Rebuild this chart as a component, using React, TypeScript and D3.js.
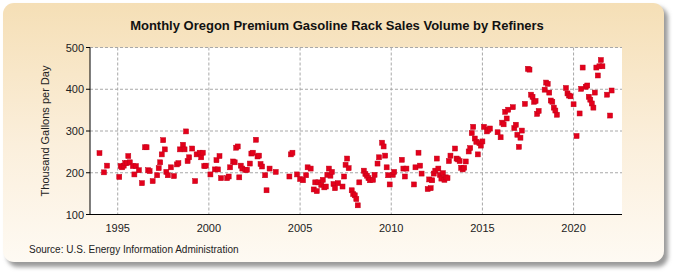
import React from "react";
import * as d3 from "d3";

const months: string[] = [
  "1994-01","1994-04","1994-06",
  "1995-02","1995-03","1995-04","1995-05","1995-06","1995-07","1995-08","1995-09","1995-11","1995-12",
  "1996-01","1996-03","1996-05","1996-07","1996-08","1996-09","1996-10","1996-12",
  "1997-03","1997-04","1997-05","1997-06","1997-07","1997-08","1997-09","1997-10","1997-12",
  "1998-02","1998-04","1998-05","1998-06","1998-08","1998-09","1998-10","1998-11","1998-12",
  "1999-02","1999-04","1999-05","1999-07","1999-08","1999-09","1999-10","1999-11",
  "2000-02","2000-05","2000-06","2000-07","2000-08","2000-09",
  "2001-01","2001-02","2001-03","2001-05","2001-06","2001-07","2001-08","2001-09","2001-10","2001-11",
  "2002-01","2002-02","2002-04","2002-05","2002-06","2002-08","2002-09","2002-10","2002-11","2002-12",
  "2003-02","2003-03","2003-05","2003-09",
  "2004-06","2004-07","2004-08","2004-11",
  "2005-01","2005-03","2005-05","2005-06","2005-08","2005-10","2005-11","2005-12",
  "2006-01","2006-03","2006-04","2006-05","2006-06","2006-07","2006-08","2006-09","2006-10","2006-11","2006-12",
  "2007-02","2007-05","2007-06","2007-07","2007-08","2007-09","2007-11","2007-12",
  "2008-01","2008-02","2008-03","2008-04","2008-07","2008-08","2008-09","2008-10","2008-11",
  "2009-01","2009-02","2009-04","2009-05","2009-07","2009-08","2009-09","2009-10","2009-11","2009-12",
  "2010-02","2010-03","2010-08","2010-09","2010-10","2010-11",
  "2011-04","2011-05","2011-07","2011-08","2011-09",
  "2012-01","2012-02","2012-03","2012-04","2012-05","2012-06","2012-07","2012-08","2012-09","2012-10","2012-11","2012-12",
  "2013-01","2013-02","2013-03","2013-04","2013-07","2013-08","2013-09","2013-10","2013-11","2013-12",
  "2014-01","2014-02","2014-04","2014-05","2014-06","2014-07","2014-08","2014-09","2014-10","2014-11","2014-12",
  "2015-01","2015-02","2015-04","2015-05","2015-06","2015-11",
  "2016-01","2016-02","2016-03","2016-04","2016-05","2016-06","2016-09","2016-10","2016-11","2016-12",
  "2017-01","2017-02","2017-03","2017-05","2017-07","2017-08","2017-09","2017-10","2017-11","2017-12",
  "2018-01","2018-02","2018-06","2018-07","2018-08","2018-09","2018-10","2018-11","2018-12",
  "2019-01","2019-02","2019-08","2019-09","2019-10","2019-11",
  "2020-01","2020-03","2020-05","2020-06","2020-07","2020-09","2020-10","2020-11","2020-12",
  "2021-01","2021-02","2021-03","2021-04","2021-05","2021-06","2021-07","2021-08","2021-11",
  "2022-01","2022-02",
];

const volumes: number[] = [
  247, 201, 217,
  190, 216, 213, 217, 223, 223, 240, 225, 216, 196,
  216, 206, 175, 261, 261, 206, 204, 180,
  194, 211, 225, 244, 278, 256, 202, 194, 213,
  192, 220, 223, 256, 267, 256, 299, 228, 237,
  258, 180, 244, 248, 237, 248, 216, 217,
  196, 208, 230, 208, 240, 187,
  187, 191, 213, 227, 225, 260, 263, 189, 217, 210,
  207, 207, 222, 246, 248, 279, 239, 241, 221, 215,
  194, 158, 210, 202,
  191, 244, 248, 196,
  185, 182, 194, 213, 210, 160, 177, 156,
  177, 171, 183, 165, 167, 195, 210, 193, 202, 173, 163,
  175, 167, 191, 219, 234, 211, 158, 149,
  146, 137, 122, 177, 205, 197, 193, 187, 182,
  183, 195, 222, 237, 272, 263, 241, 213, 194, 172,
  195, 202, 231, 210, 191, 210,
  172, 213, 248, 217, 198,
  161, 184, 163, 182, 198, 205, 234, 210, 195, 186, 199, 183,
  189, 187, 228, 241, 258, 234, 232, 228, 212, 208,
  212, 227, 251, 259, 295, 310, 282, 274, 244, 271, 265,
  275, 310, 299, 303, 306, 297,
  285, 320, 316, 346, 330, 351, 357, 307, 315, 291,
  262, 284, 301, 365, 449, 447, 387, 382, 370, 372,
  341, 348, 399, 416, 413, 392, 373, 370, 356,
  349, 339, 403, 390, 385, 383,
  364, 288, 342, 401, 452, 406, 409, 382, 375,
  366, 356, 392, 452, 433, 455, 470, 455, 387,
  337, 397,
];

const yTicks: number[] = [100, 200, 300, 400, 500];
const xTickYears: number[] = [1995, 2000, 2005, 2010, 2015, 2020];

const title = "Monthly Oregon Premium Gasoline Rack Sales Volume by Refiners";
const yLabel = "Thousand Gallons per Day";
const source = "Source: U.S. Energy Information Administration";

export default function App() {
  const W = 675, H = 275;
  const left = 90, right = 622, top = 47.5, bottom = 214.5;
  const parse = d3.timeParse("%Y-%m");
  const x = d3
    .scaleTime()
    .domain([new Date(1993, 5, 25), new Date(2022, 7, 28)])
    .range([left, right]);
  const y = d3.scaleLinear().domain([100, 500]).range([bottom, top]);
  const pts = months.map((m, i) => ({ d: parse(m) as Date, v: volumes[i] }));
  const font = "'Liberation Sans', Arial, sans-serif";

  return (
    <svg width={W} height={H} style={{ position: "absolute", left: 0, top: 0 }} fontFamily={font}>
      <defs>
        <linearGradient id="bg" x1="0" y1="0" x2="0" y2="1">
          <stop offset="0" stopColor="#f5dfb6" />
          <stop offset="0.55" stopColor="#fbefdc" />
          <stop offset="1" stopColor="#fefaf3" />
        </linearGradient>
        <filter id="sh" x="-5%" y="-5%" width="110%" height="115%">
          <feGaussianBlur stdDeviation="2" />
        </filter>
      </defs>
      <rect x={7} y={7} width={661} height={260} rx={11} fill="#9a9a9a" filter="url(#sh)" />
      <rect x={3} y={3} width={661} height={259} rx={11} fill="url(#bg)" />
      <rect x={left} y={top} width={right - left} height={bottom - top} fill="#ffffff" />
      <text x={337} y={30} textAnchor="middle" fontSize={13} fontWeight="bold" fill="#111">
        {title}
      </text>
      {yTicks.filter((t) => t > 100).map((t) => (
        <line key={"gy" + t} x1={left} x2={right} y1={y(t)} y2={y(t)} stroke="#a8a8a8" strokeDasharray="3,2" />
      ))}
      {xTickYears.map((yr) => (
        <line
          key={"gx" + yr}
          x1={x(new Date(yr, 0, 1))}
          x2={x(new Date(yr, 0, 1))}
          y1={top}
          y2={bottom}
          stroke="#a8a8a8"
          strokeDasharray="3,2"
        />
      ))}
      {pts.map((p, i) => (
        <rect
          key={i}
          x={x(p.d) - 2.5}
          y={y(p.v) - 2.5}
          width={5}
          height={5}
          fill="#e3001b"
          stroke="#c40018"
          strokeWidth={0.5}
        />
      ))}
      <line x1={left} x2={left} y1={top} y2={bottom} stroke="#000" />
      <line x1={left} x2={right} y1={bottom} y2={bottom} stroke="#000" />
      {yTicks.map((t) => (
        <g key={"ty" + t}>
          <line x1={left - 4} x2={left} y1={y(t)} y2={y(t)} stroke="#000" />
          <text x={left - 6} y={y(t) + 4} textAnchor="end" fontSize={11} fill="#222">
            {t}
          </text>
        </g>
      ))}
      {xTickYears.map((yr) => (
        <text key={"tx" + yr} x={x(new Date(yr, 0, 1))} y={232} textAnchor="middle" fontSize={11} fill="#222">
          {yr}
        </text>
      ))}
      <text
        transform={`translate(49,${(top + bottom) / 2}) rotate(-90)`}
        textAnchor="middle"
        fontSize={11}
        fill="#222"
      >
        {yLabel}
      </text>
      <text x={29} y={253} fontSize={10} fill="#222">
        {source}
      </text>
    </svg>
  );
}
